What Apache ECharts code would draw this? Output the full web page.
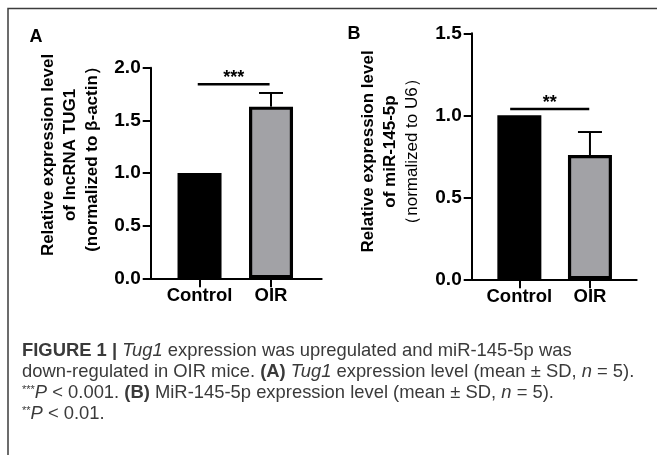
<!DOCTYPE html>
<html>
<head>
<meta charset="utf-8">
<script src="https://cdn.jsdelivr.net/npm/echarts@6/dist/echarts.min.js"></script>
<style>
html,body{margin:0;padding:0;background:#fff;}
#c{width:657px;height:455px;}
</style>
</head>
<body>
<div id="c"></div>
<script>
// ---- data ----
var categories = ['Control', 'OIR'];
var meanA = [1.0, 1.63];
var sdA = [0, 0.13];
var meanB = [1.0, 0.758];
var sdB = [0, 0.14];
var yTicksA = [0, 0.5, 1.0, 1.5, 2.0];
var yTicksB = [0, 0.5, 1.0, 1.5];
var sigA = [[-0.025, 0.98, 1.842, '***']];
var sigB = [[-0.13, 0.99, 1.038, '**']];
var barColors = ['#000000', '#a2a2a6'];

var FONT = 'Liberation Sans, Arial, sans-serif';
var chart = echarts.init(document.getElementById('c'), null, {renderer: 'canvas'});

function barData(means) {
  return means.map(function (v, i) {
    return {value: [i, v], itemStyle: {color: barColors[i]}};
  });
}
function errData(means, sds) {
  return means.map(function (v, i) { return [i, v, sds[i]]; });
}
function xAxisCfg(gi, min, max) {
  return {
    gridIndex: gi, type: 'value', min: min, max: max,
    axisLine: {show: true, onZero: false, lineStyle: {color: '#000', width: 2}},
    axisTick: {show: true, length: 9, lineStyle: {color: '#000', width: 2}, customValues: [0, 1]},
    axisLabel: {show: true, customValues: [0, 1], margin: 8, color: '#000',
      fontFamily: FONT, fontWeight: 'bold', fontSize: 18.5,
      formatter: function (v) { return categories[Math.round(v)]; }},
    splitLine: {show: false}
  };
}
function yAxisCfg(gi, ticks) {
  return {
    gridIndex: gi, type: 'value', min: ticks[0], max: ticks[ticks.length - 1], interval: 0.5,
    axisLine: {show: true, onZero: false, lineStyle: {color: '#000', width: 2}},
    axisTick: {show: true, length: 8, lineStyle: {color: '#000', width: 2}},
    axisLabel: {margin: 10, color: '#000', fontFamily: FONT, fontWeight: 'bold', fontSize: 19,
      formatter: function (v) { return v.toFixed(1); }},
    splitLine: {show: false}
  };
}
function errSeries(gi, means, sds) {
  return {
    type: 'custom', xAxisIndex: gi, yAxisIndex: gi, z: 1,
    data: errData(means, sds),
    renderItem: function (params, api) {
      var x = api.value(0), m = api.value(1), s = api.value(2);
      if (!(s > 0)) return null;
      var p0 = api.coord([x, m]);
      var p1 = api.coord([x, m + s]);
      return {type: 'group', children: [
        {type: 'line', shape: {x1: p0[0], y1: p0[1], x2: p1[0], y2: p1[1]}, style: {stroke: '#000', lineWidth: 2}},
        {type: 'line', shape: {x1: p1[0] - 12, y1: p1[1], x2: p1[0] + 12, y2: p1[1]}, style: {stroke: '#000', lineWidth: 2}}
      ]};
    }
  };
}
function sigSeries(gi, sig) {
  return {
    type: 'custom', xAxisIndex: gi, yAxisIndex: gi, z: 3,
    data: sig,
    renderItem: function (params, api) {
      var a = api.coord([api.value(0), api.value(2)]);
      var b = api.coord([api.value(1), api.value(2)]);
      return {type: 'group', children: [
        {type: 'line', shape: {x1: a[0], y1: a[1], x2: b[0], y2: b[1]}, style: {stroke: '#000', lineWidth: 2.5}},
        {type: 'text', x: (a[0] + b[0]) / 2, y: a[1] + 3, style: {text: sig[params.dataIndex][3],
          fontFamily: FONT, fontWeight: 'bold', fontSize: 18, fill: '#000', align: 'center', verticalAlign: 'bottom'}}
      ]};
    }
  };
}
function barSeries(gi, means) {
  return {
    type: 'bar', xAxisIndex: gi, yAxisIndex: gi, z: 2,
    barWidth: 44, data: barData(means),
    itemStyle: {borderColor: '#000', borderWidth: 3.2},
    emphasis: {disabled: true}
  };
}
function vtext(x, y, t, bold) {
  return {type: 'text', x: x, y: y, rotation: Math.PI / 2,
    style: {text: t, fontFamily: FONT, fontWeight: bold ? 'bold' : 'normal', fontSize: 17,
      fill: '#000', align: 'center', verticalAlign: 'middle'}};
}
var CF = 18.4;
var capStyle = {fontFamily: FONT, fontSize: CF, fill: '#3a3a3a',
  rich: {
    b: {fontFamily: FONT, fontSize: CF, fontWeight: 'bold', color: '#3a3a3a'},
    i: {fontFamily: FONT, fontSize: CF, fontStyle: 'italic', color: '#3a3a3a'},
    s: {fontFamily: FONT, fontSize: 11, color: '#3a3a3a', verticalAlign: 'top'}
  }};
function capLine(y, t) {
  return {type: 'text', x: 22, y: y,
    style: Object.assign({}, capStyle, {text: t, align: 'left', verticalAlign: 'middle'})};
}

var option = {
  animation: false,
  grid: [
    {left: 150.7, top: 67.7, width: 171, height: 210.6},
    {left: 471.7, top: 33.3, width: 165, height: 246}
  ],
  xAxis: [xAxisCfg(0, -0.683, 1.709), xAxisCfg(1, -0.675, 1.662)],
  yAxis: [yAxisCfg(0, yTicksA), yAxisCfg(1, yTicksB)],
  series: [
    barSeries(0, meanA), errSeries(0, meanA, sdA), sigSeries(0, sigA),
    barSeries(1, meanB), errSeries(1, meanB, sdB), sigSeries(1, sigB)
  ],
  graphic: [
    {type: 'polyline', shape: {points: [[8, 456], [8, 8.5], [658, 8.5]]}, style: {stroke: '#3c3c3c', lineWidth: 1.5, fill: null}},
    {type: 'text', x: 36, y: 37, style: {text: 'A', fontFamily: FONT, fontWeight: 'bold', fontSize: 18, fill: '#000', align: 'center', verticalAlign: 'middle'}},
    {type: 'text', x: 354, y: 34, style: {text: 'B', fontFamily: FONT, fontWeight: 'bold', fontSize: 18, fill: '#000', align: 'center', verticalAlign: 'middle'}},
    vtext(48.7, 155, 'Relative expression level', true),
    vtext(70.5, 155, 'of lncRNA TUG1', true),
    vtext(92.5, 155, '(normalized to β-actin）', true),
    vtext(368, 151.5, 'Relative expression level', true),
    vtext(390, 151.5, 'of miR-145-5p', true),
    vtext(412, 151.5, '（normalized to U6）', false),
    capLine(351, '{b|FIGURE 1 |} {i|Tug1} expression was upregulated and miR-145-5p was'),
    capLine(372, 'down-regulated in OIR mice. {b|(A)} {i|Tug1} expression level (mean ± SD, {i|n} = 5).'),
    capLine(393, '{s|***}{i|P} < 0.001. {b|(B)} MiR-145-5p expression level (mean ± SD, {i|n} = 5).'),
    capLine(414, '{s|**}{i|P} < 0.01.')
  ]
};
chart.setOption(option);
</script>
</body>
</html>
